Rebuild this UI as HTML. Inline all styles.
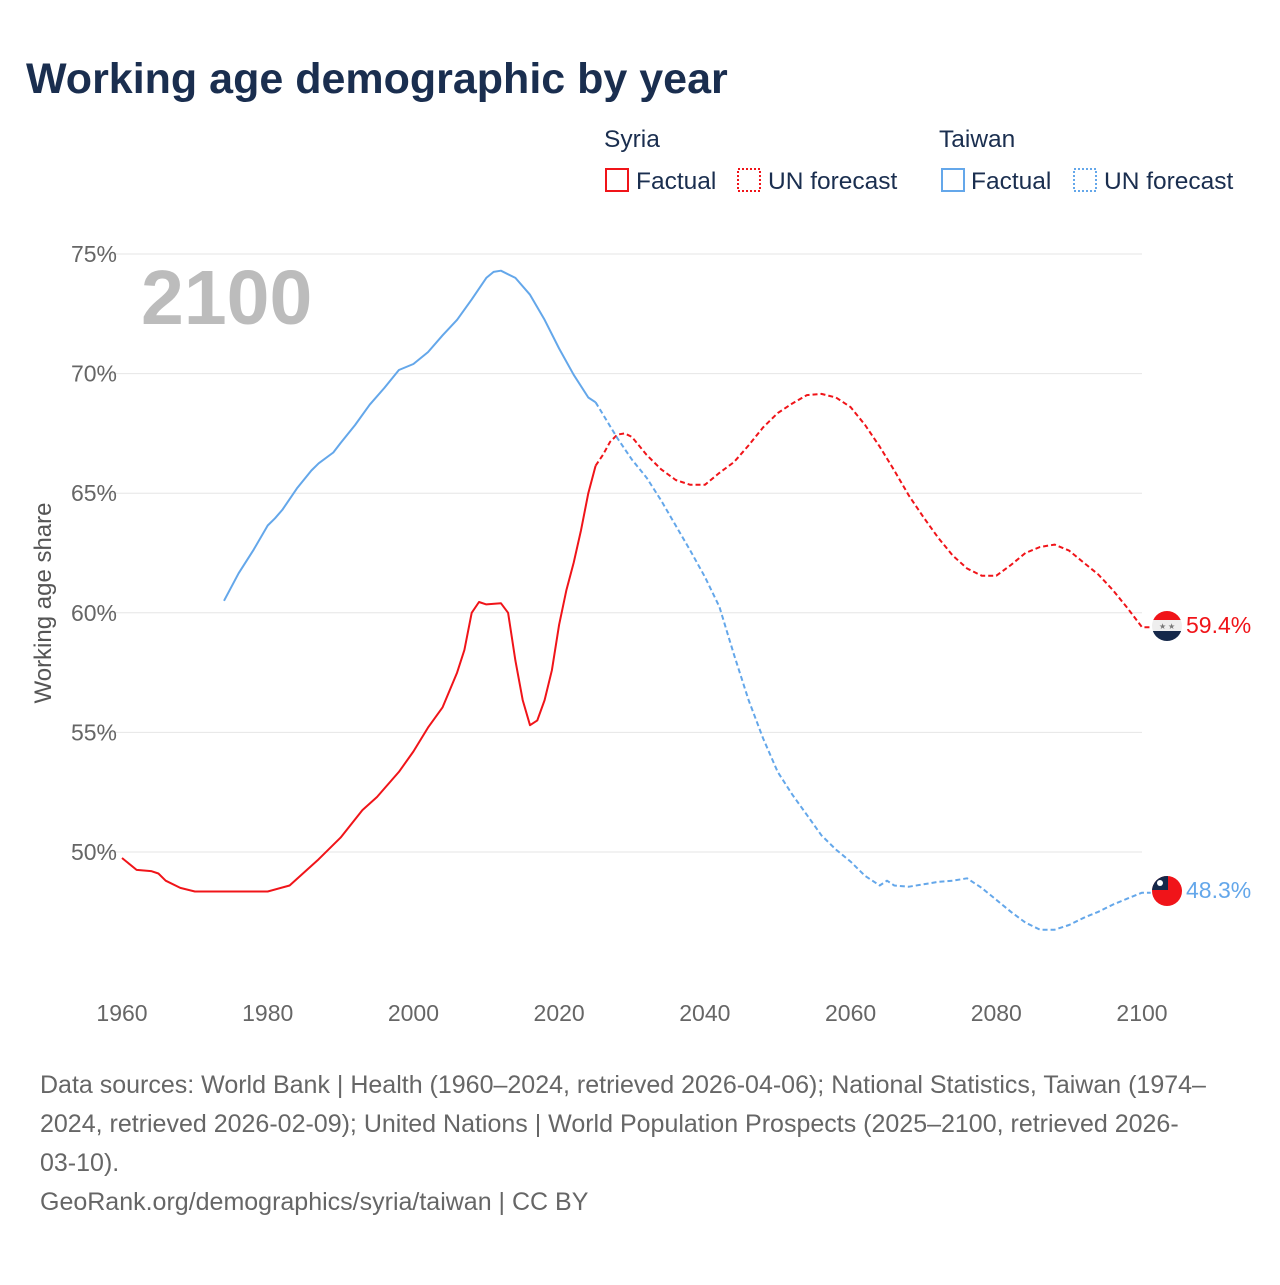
<!DOCTYPE html>
<html><head><meta charset="utf-8"><style>
body{margin:0;background:#fff;font-family:"Liberation Sans",sans-serif;}
svg text{font-family:"Liberation Sans",sans-serif;}
</style></head><body>
<svg width="1280" height="1280" viewBox="0 0 1280 1280">
<text x="26" y="93" font-size="43" font-weight="bold" fill="#1a2e4f">Working age demographic by year</text>
<g font-size="24.5" fill="#1a2e4f">
<text x="604" y="147">Syria</text>
<text x="939" y="147">Taiwan</text>
<g><rect x="606" y="169" width="22" height="22" fill="none" stroke="#f01419" stroke-width="2"/><text x="636" y="189">Factual</text></g>
<g><rect x="738" y="169" width="22" height="22" fill="none" stroke="#f01419" stroke-width="2" stroke-dasharray="2,2"/><text x="768" y="189">UN forecast</text></g>
<g><rect x="942" y="169" width="22" height="22" fill="none" stroke="#64a7ea" stroke-width="2"/><text x="971" y="189">Factual</text></g>
<g><rect x="1074" y="169" width="22" height="22" fill="none" stroke="#64a7ea" stroke-width="2" stroke-dasharray="2,2"/><text x="1104" y="189">UN forecast</text></g>
</g>
<text x="141" y="324" font-size="77" font-weight="bold" fill="#bcbcbc">2100</text>
<g id="grid"></g><g id="lines"></g>
<text transform="translate(51,603) rotate(-90)" text-anchor="middle" font-size="24" fill="#555">Working age share</text>
<g>
<clipPath id="c1"><circle cx="1167" cy="626" r="15"/></clipPath>
<g clip-path="url(#c1)"><rect x="1150" y="609" width="34" height="11" fill="#f01419"/><rect x="1150" y="620" width="34" height="11" fill="#eee"/><rect x="1150" y="631" width="34" height="12" fill="#15284a"/><text x="1159" y="629" font-size="8" fill="#777">★</text><text x="1168" y="629" font-size="8" fill="#777">★</text></g>
<text x="1186" y="633" font-size="23" fill="#f01419">59.4%</text></g>
<g>
<clipPath id="c2"><circle cx="1167" cy="891" r="15"/></clipPath>
<g clip-path="url(#c2)"><rect x="1150" y="874" width="34" height="34" fill="#f01419"/><rect x="1150" y="874" width="18" height="16" fill="#15284a"/><circle cx="1160" cy="883" r="3" fill="#fff"/></g>
<text x="1186" y="898" font-size="23" fill="#64a7ea">48.3%</text></g>
<g font-size="25" fill="#666">
<text x="40" y="1093">Data sources: World Bank | Health (1960–2024, retrieved 2026-04-06); National Statistics, Taiwan (1974–</text>
<text x="40" y="1132">2024, retrieved 2026-02-09); United Nations | World Population Prospects (2025–2100, retrieved 2026-</text>
<text x="40" y="1171">03-10).</text>
<text x="40" y="1210">GeoRank.org/demographics/syria/taiwan | CC BY</text>
</g>
</svg>
<script>
const yTicks=[50,55,60,65,70,75];
const xTicks=[1960,1980,2000,2020,2040,2060,2080,2100];
const syriaYears=[1960,1962,1964,1965,1966,1968,1970,1980,1983,1987,1990,1993,1995,1998,2000,2002,2004,2006,2007,2008,2009,2010,2012,2013,2014,2015,2016,2017,2018,2019,2020,2021,2022,2023,2024,2025];
const syriaVals=[49.75,49.25,49.2,49.1,48.8,48.5,48.35,48.35,48.6,49.7,50.6,51.75,52.3,53.35,54.2,55.2,56.05,57.5,58.45,60.0,60.45,60.35,60.4,60.0,58,56.35,55.3,55.5,56.35,57.6,59.5,60.95,62.1,63.45,65,66.15];
const syriaFYears=[2025,2026,2027,2028,2029,2030,2032,2034,2036,2038,2040,2042,2044,2046,2048,2050,2052,2054,2056,2058,2060,2062,2064,2066,2068,2070,2072,2074,2076,2078,2080,2082,2084,2086,2088,2090,2092,2094,2096,2098,2100];
const syriaFVals=[66.15,66.6,67.15,67.45,67.5,67.35,66.6,66,65.55,65.35,65.35,65.85,66.3,67,67.75,68.35,68.75,69.1,69.15,69.0,68.6,67.85,66.95,65.95,64.9,64,63.15,62.4,61.85,61.55,61.55,62,62.5,62.75,62.85,62.6,62.1,61.6,60.95,60.2,59.4];
const taiwanYears=[1974,1976,1978,1980,1981,1982,1984,1986,1987,1989,1990,1992,1994,1996,1998,2000,2002,2004,2006,2008,2010,2011,2012,2014,2016,2018,2020,2022,2024,2025];
const taiwanVals=[60.5,61.65,62.6,63.65,63.95,64.3,65.2,65.95,66.25,66.7,67.1,67.85,68.7,69.4,70.15,70.4,70.9,71.6,72.25,73.1,74.0,74.25,74.3,74.0,73.3,72.25,71.05,69.95,69,68.8];
const taiwanFYears=[2025,2026,2028,2030,2032,2034,2036,2038,2040,2042,2044,2046,2048,2050,2052,2054,2056,2058,2060,2062,2064,2065,2066,2068,2070,2072,2074,2076,2078,2080,2082,2084,2086,2088,2090,2092,2094,2096,2098,2100];
const taiwanFVals=[68.8,68.3,67.3,66.4,65.65,64.7,63.65,62.6,61.5,60.25,58.25,56.35,54.75,53.35,52.4,51.55,50.7,50.1,49.6,49.0,48.6,48.8,48.6,48.55,48.65,48.75,48.8,48.9,48.5,48.0,47.5,47.05,46.75,46.75,46.95,47.25,47.5,47.8,48.05,48.3];
const NS='http://www.w3.org/2000/svg';
function xS(y){return 122+(y-1960)*(1020/140);}
function yS(v){return 852-(v-50)*(598/25);}
const grid=document.getElementById('grid'),lines=document.getElementById('lines');
yTicks.forEach(t=>{
 const l=document.createElementNS(NS,'line');
 l.setAttribute('x1',100);l.setAttribute('x2',1142);l.setAttribute('y1',yS(t));l.setAttribute('y2',yS(t));
 l.setAttribute('stroke','#e6e6e6');l.setAttribute('stroke-width',1);
 
 
 grid.appendChild(l);
 const tx=document.createElementNS(NS,'text');
 tx.setAttribute('x',117);tx.setAttribute('y',yS(t)+8);tx.setAttribute('text-anchor','end');tx.setAttribute('font-size','23');tx.setAttribute('fill','#666');
 tx.textContent=t+'%';
 
 
 grid.appendChild(tx);
});
xTicks.forEach(t=>{
 const tx=document.createElementNS(NS,'text');
 tx.setAttribute('x',xS(t));tx.setAttribute('y',1021);tx.setAttribute('text-anchor','middle');tx.setAttribute('font-size','23');tx.setAttribute('fill','#666');
 tx.textContent=t;
 
 
 grid.appendChild(tx);
});
function path(ys,vs,color,dash,name){
 const p=document.createElementNS(NS,'path');
 p.setAttribute('d',ys.map((y,i)=>(i?'L':'M')+xS(y).toFixed(1)+','+yS(vs[i]).toFixed(1)).join(''));
 p.setAttribute('fill','none');p.setAttribute('stroke',color);p.setAttribute('stroke-width',2);
 p.setAttribute('stroke-linejoin','round');
 if(dash)p.setAttribute('stroke-dasharray','5,3');
 
 
 lines.appendChild(p);
}
path(syriaYears,syriaVals,'#f01419',false,'syria-factual-line');
path(syriaFYears.concat([2101.2]),syriaFVals.concat([59.4]),'#f01419',true,'syria-forecast-line');
path(taiwanYears,taiwanVals,'#64a7ea',false,'taiwan-factual-line');
path(taiwanFYears.concat([2101.2]),taiwanFVals.concat([48.3]),'#64a7ea',true,'taiwan-forecast-line');
</script>
</body></html>
